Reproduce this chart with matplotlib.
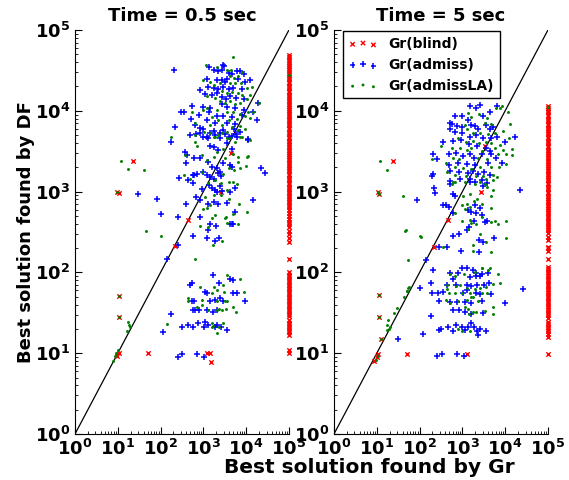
import numpy as np
import matplotlib
matplotlib.use('Agg')
import matplotlib.pyplot as plt
import matplotlib.ticker as ticker

plt.rcParams['font.family'] = 'DejaVu Sans'
plt.rcParams['font.weight'] = 'bold'
plt.rcParams['axes.titleweight'] = 'bold'
plt.rcParams['axes.labelweight'] = 'bold'

# all values are log10 of the solution cost
TIMEOUT = 5.0  # column at 1e5 = Gr found nothing

# ---------------- Time = 0.5 sec ----------------
left_blind = [(1.36, 3.38), (0.98, 3.00), (1.03, 2.98), (2.65, 2.65), (3.41, 3.00), (3.64, 3.48),
              (2.34, 2.33), (1.03, 1.71), (1.03, 1.45), (0.98, 0.97), (1.03, 1.00), (1.71, 1.00),
              (3.08, 1.00), (3.15, 1.00), (3.18, 0.89)]
left_blind_col = [4.69, 4.66, 4.63, 4.61, 4.58, 4.55, 4.53, 4.50, 4.47, 4.44, 4.42, 4.39, 4.36, 4.34,
                  4.31, 4.28, 4.25, 4.23, 4.20, 4.17, 4.15, 4.12, 4.09, 4.06, 4.04, 4.01, 3.98, 3.96,
                  3.93, 3.90, 3.87, 3.85, 3.82, 3.79, 3.77, 3.74, 3.71, 3.68, 3.66, 3.63, 3.60, 3.58,
                  3.55, 3.52, 3.49, 3.47, 3.44, 3.41, 3.39, 3.36, 3.33, 3.30, 3.28, 3.25, 3.22, 3.20,
                  3.17, 3.14, 3.11, 3.09, 3.06, 3.03, 3.01, 2.98, 2.95, 2.92, 2.90, 2.87, 2.84, 2.81,
                  2.77, 2.74, 2.70, 2.66, 2.63, 2.60, 2.56, 2.51, 2.47, 2.43, 2.38, 2.17, 2.00, 1.97,
                  1.94, 1.91, 1.88, 1.85, 1.82, 1.79, 1.76, 1.73, 1.70, 1.67, 1.64, 1.61, 1.58, 1.55,
                  1.52, 1.49, 1.46, 1.41, 1.38, 1.35, 1.32, 1.29, 1.26, 1.23, 1.04, 1.00]

left_admiss = [
    (2.31, 4.50), (2.48, 3.99), (2.55, 3.99), (2.34, 3.80), (2.24, 3.61), (2.57, 3.49), (2.59, 3.35),
    (2.76, 3.21), (2.43, 3.17), (2.76, 3.11), (2.83, 2.93), (2.59, 2.85), (2.41, 2.69), (2.01, 2.72),
    (1.92, 2.91), (1.47, 2.97), (2.76, 2.45), (4.35, 3.29), (4.44, 3.23), (4.28, 4.10), (4.25, 3.89),
    (4.04, 3.64), (3.67, 2.60), (3.36, 2.43), (3.08, 2.43), (3.10, 2.52), (3.27, 2.39), (2.41, 2.34),
    (2.15, 2.17),
    (3.14, 4.54), (3.47, 4.57), (3.49, 4.55), (3.43, 4.51), (3.26, 4.50), (3.35, 4.49), (3.59, 4.47),
    (3.66, 4.45), (3.78, 4.49), (3.86, 4.49), (3.94, 4.45), (3.08, 4.39), (3.31, 4.38), (3.43, 4.38),
    (3.51, 4.36), (3.55, 4.39), (3.80, 4.39), (3.98, 4.36), (4.09, 4.38), (3.12, 4.30), (3.25, 4.28),
    (3.35, 4.27), (3.47, 4.30), (3.59, 4.27), (3.70, 4.28), (3.90, 4.27), (2.92, 4.26), (3.03, 4.21),
    (3.20, 4.19), (3.31, 4.22), (3.43, 4.17), (3.53, 4.15), (3.63, 4.18), (3.77, 4.16), (3.94, 4.15),
    (2.73, 4.06), (3.00, 4.05), (3.16, 4.03), (3.43, 4.08), (3.55, 4.05), (3.74, 4.03), (3.94, 4.01),
    (2.89, 3.95), (3.14, 3.98), (3.31, 3.94), (3.47, 3.93), (3.66, 3.92), (3.90, 3.95), (4.17, 3.99),
    (2.71, 3.90), (3.08, 3.89), (3.27, 3.85), (3.55, 3.85), (3.74, 3.84), (2.81, 3.82), (2.92, 3.79),
    (3.00, 3.77), (3.24, 3.75), (3.47, 3.76), (3.72, 3.77), (2.69, 3.70), (3.00, 3.67), (3.12, 3.66),
    (3.39, 3.66), (3.59, 3.68), (3.78, 3.68), (4.05, 3.65),
    (2.83, 3.71), (2.92, 3.73), (3.08, 3.68), (3.16, 3.72), (3.28, 3.70), (3.39, 3.73), (3.51, 3.71),
    (3.66, 3.69), (3.77, 3.71), (3.86, 3.74), (2.61, 3.45), (2.77, 3.41), (3.16, 3.57), (3.24, 3.55),
    (3.35, 3.51), (3.55, 3.60), (3.66, 3.53), (2.92, 3.41), (3.12, 3.37), (3.20, 3.31), (3.31, 3.29),
    (3.47, 3.35), (3.63, 3.33), (3.66, 3.31), (2.86, 3.22), (3.00, 3.24), (2.65, 3.14), (2.77, 3.20),
    (3.08, 3.20), (3.16, 3.18), (3.24, 3.16), (3.35, 3.23), (3.39, 3.24), (3.41, 3.19), (2.96, 3.03),
    (3.14, 3.08), (3.20, 3.04), (3.28, 3.02), (3.33, 3.00), (3.38, 3.07), (3.43, 3.01), (3.63, 3.00),
    (3.74, 3.04), (2.92, 2.89), (3.12, 2.85), (3.24, 2.87), (3.35, 2.85), (3.55, 2.86), (3.74, 2.75),
    (4.17, 2.89), (2.92, 2.68), (3.16, 2.60), (3.30, 2.58), (3.63, 2.60), (3.70, 2.60),
    (2.69, 1.84), (2.73, 1.87), (3.22, 1.97), (3.36, 1.87), (3.62, 1.92), (3.69, 1.90), (3.79, 1.75),
    (3.69, 1.75), (3.04, 1.76), (3.08, 1.74), (3.97, 1.65), (3.15, 1.65), (3.27, 1.66), (3.39, 1.68),
    (3.46, 1.65), (2.73, 1.65), (2.78, 1.64), (2.76, 1.54), (2.80, 1.54), (2.90, 1.53), (3.08, 1.54),
    (3.22, 1.51), (3.32, 1.53), (2.24, 1.49), (2.64, 1.35), (2.76, 1.33), (2.50, 1.33), (2.06, 1.26),
    (2.87, 1.37), (3.01, 1.33), (3.11, 1.35), (3.27, 1.33), (3.32, 1.35), (3.55, 1.29), (3.41, 1.33),
    (3.04, 1.39), (2.41, 0.95), (2.50, 0.99), (2.85, 0.99), (3.01, 0.95)]

left_admissLA = [
    (3.69, 4.67), (3.06, 4.57), (3.32, 4.54), (2.24, 3.68), (1.07, 3.38), (1.24, 3.28), (1.61, 3.27),
    (1.66, 2.51), (2.01, 2.45), (4.16, 3.99), (4.02, 3.43), (4.00, 3.32), (4.02, 2.75), (3.83, 2.85),
    (3.69, 2.72), (3.81, 2.60), (3.53, 2.69), (3.22, 2.34), (3.43, 2.39), (2.80, 2.17), (5.00, 4.44),
    (3.55, 4.50), (3.64, 4.51), (3.82, 4.43), (3.90, 4.48), (3.72, 4.41), (3.63, 4.43), (3.00, 4.38),
    (3.16, 4.36), (3.24, 4.32), (3.38, 4.34), (3.63, 4.34), (3.74, 4.35), (3.88, 4.34), (4.01, 4.28),
    (4.13, 4.30), (3.43, 4.24), (3.55, 4.22), (3.66, 4.23), (3.80, 4.22), (3.90, 4.20), (4.08, 4.20),
    (3.08, 4.18), (3.28, 4.16), (3.39, 4.12), (3.51, 4.10), (3.63, 4.12), (3.74, 4.09), (3.86, 4.10),
    (4.01, 4.14), (4.29, 4.10), (2.99, 4.01), (3.08, 4.03), (3.31, 4.01), (3.55, 3.99), (3.70, 3.99),
    (3.86, 3.96), (4.05, 3.99), (2.73, 3.99), (3.20, 3.92), (3.35, 3.89), (3.59, 3.89), (3.78, 3.90),
    (3.98, 3.93), (4.09, 3.91), (2.81, 3.85), (3.16, 3.83), (3.43, 3.82), (3.66, 3.80), (3.86, 3.81),
    (3.16, 3.73), (3.43, 3.73), (3.82, 3.76), (3.98, 3.77), (2.81, 3.70), (3.28, 3.68), (3.55, 3.66),
    (3.86, 3.68),
    (2.81, 3.62), (2.85, 3.56), (3.02, 3.74), (3.24, 3.67), (3.35, 3.70), (3.55, 3.74), (3.63, 3.66),
    (3.74, 3.62), (3.90, 3.68), (4.09, 3.64), (2.57, 3.45), (2.96, 3.45), (3.08, 3.39), (3.24, 3.43),
    (3.31, 3.49), (3.47, 3.53), (3.51, 3.41), (3.70, 3.47), (3.82, 3.43), (3.80, 3.37), (4.05, 3.44),
    (2.96, 3.24), (3.59, 3.29), (3.72, 3.27), (3.86, 3.29), (3.47, 3.22), (2.54, 3.20), (2.68, 3.15),
    (3.12, 3.11), (3.28, 3.14), (3.41, 3.11), (3.59, 3.12), (3.69, 3.12), (3.78, 3.10), (3.55, 3.02),
    (3.04, 2.93), (3.24, 2.96), (3.41, 2.96), (3.59, 2.91), (3.00, 2.78), (3.08, 2.80), (3.16, 2.83),
    (3.20, 2.67), (3.28, 2.71), (3.51, 2.67), (3.55, 2.61), (2.91, 2.58), (3.12, 2.56),
    (3.55, 1.97), (3.86, 1.92), (2.92, 1.82), (3.25, 1.82), (3.46, 1.84), (3.32, 1.78), (3.48, 1.76),
    (3.20, 1.74), (3.95, 1.76), (2.64, 1.68), (2.64, 1.64), (2.97, 1.66), (3.32, 1.64), (3.50, 1.65),
    (3.55, 1.64), (3.69, 1.57), (2.97, 1.60), (3.11, 1.54), (3.32, 1.53), (3.36, 1.55), (3.43, 1.54),
    (3.53, 1.55), (3.76, 1.51), (2.85, 1.57), (3.20, 1.37), (3.20, 1.33), (3.22, 1.34), (3.32, 1.25),
    (3.46, 1.37), (2.15, 1.36), (3.36, 1.33),
    (1.24, 1.39), (1.26, 1.35), (1.29, 1.33), (1.21, 1.28), (1.00, 1.04), (0.96, 1.00), (0.93, 0.97),
    (0.89, 0.90), (1.03, 1.71), (1.03, 1.45), (0.98, 3.00)]

# ---------------- Time = 5 sec ----------------
right_blind = [(1.39, 3.38), (1.02, 2.99), (1.05, 2.97), (2.67, 2.65), (3.43, 3.00), (3.53, 3.56),
               (2.33, 2.32), (1.05, 1.72), (1.05, 1.45), (1.11, 1.17), (1.00, 0.95), (0.94, 0.90),
               (1.02, 0.99), (1.71, 0.99), (3.10, 0.99)]
right_blind_col = [4.06, 4.03, 4.01, 3.98, 3.95, 3.93, 3.90, 3.87, 3.84, 3.82, 3.79, 3.76, 3.74, 3.71,
                   3.68, 3.66, 3.63, 3.60, 3.57, 3.55, 3.52, 3.49, 3.47, 3.44, 3.41, 3.38, 3.36, 3.33,
                   3.30, 3.28, 3.25, 3.22, 3.19, 3.17, 3.14, 3.11, 3.09, 3.06, 3.03, 3.00, 2.98, 2.95,
                   2.92, 2.90, 2.87, 2.84, 2.81, 2.79, 2.76, 2.73, 2.70, 2.67, 2.64, 2.61, 2.58, 2.55,
                   2.52, 2.49, 2.44, 2.40, 2.32, 2.30, 2.27, 2.16, 2.07, 2.04, 2.01, 1.98, 1.95, 1.92,
                   1.89, 1.86, 1.83, 1.80, 1.77, 1.74, 1.71, 1.68, 1.65, 1.62, 1.59, 1.56, 1.53, 1.50,
                   1.47, 1.44, 1.39, 1.36, 1.33, 1.30, 1.27, 1.24, 1.20, 0.99]

right_admiss = [
    (3.19, 4.06), (3.32, 4.04), (3.42, 4.07), (3.64, 3.99), (2.98, 3.93), (2.83, 3.94), (3.14, 3.89),
    (3.29, 3.81), (3.49, 3.93), (3.55, 3.83), (3.80, 4.06), (2.71, 3.85), (2.88, 3.81), (2.98, 3.80),
    (3.21, 3.83), (3.37, 3.78), (3.64, 3.77), (3.72, 3.80), (2.83, 3.74), (2.98, 3.73), (3.18, 3.67),
    (3.32, 3.70), (3.49, 3.66), (3.68, 3.66), (3.81, 3.67), (4.23, 3.68), (2.54, 3.62), (2.79, 3.63),
    (2.96, 3.64), (3.16, 3.59), (3.35, 3.56), (3.55, 3.54), (3.64, 3.50), (3.99, 3.61), (2.32, 3.47),
    (2.69, 3.47), (2.85, 3.48), (3.02, 3.44), (3.18, 3.46), (3.27, 3.42), (3.45, 3.46), (3.68, 3.47),
    (3.78, 3.42), (2.40, 3.40), (2.69, 3.33), (2.90, 3.35), (3.10, 3.34), (3.29, 3.33), (3.60, 3.35),
    (3.92, 3.35), (2.71, 3.26), (2.93, 3.24), (3.14, 3.23), (3.25, 3.25), (3.37, 3.22), (3.50, 3.24),
    (3.64, 3.21), (2.28, 3.19), (2.32, 3.22), (2.71, 3.13), (2.94, 3.15), (3.18, 3.15), (3.29, 3.12),
    (3.45, 3.14), (3.58, 3.11), (2.75, 3.84), (2.70, 3.78), (2.36, 2.98),
    (2.33, 3.05), (2.72, 3.10), (3.18, 3.12), (3.49, 3.07), (4.34, 3.02), (1.94, 2.90), (2.79, 2.97),
    (2.83, 2.95), (2.55, 2.84), (2.61, 2.83), (2.69, 2.81), (3.29, 2.83), (3.41, 2.80), (3.14, 2.77),
    (3.21, 2.75), (3.32, 2.73), (2.79, 2.73), (3.45, 2.71), (3.27, 2.64), (3.53, 2.62), (3.58, 2.64),
    (3.16, 2.56), (3.10, 2.52), (2.93, 2.48), (2.77, 2.45), (3.39, 2.40), (3.49, 2.38), (3.74, 2.42),
    (2.96, 2.27), (3.39, 2.25), (2.63, 2.31), (2.46, 2.32), (2.16, 2.15), (2.32, 2.03), (3.00, 2.05),
    (3.10, 2.05), (3.24, 2.03),
    (2.71, 1.99), (2.90, 1.99), (3.33, 1.99), (3.45, 1.98), (3.60, 1.99), (2.79, 1.92), (3.18, 1.94),
    (3.32, 1.95), (3.41, 1.95), (2.26, 1.87), (2.02, 1.81), (2.63, 1.85), (2.86, 1.85), (3.10, 1.85),
    (3.21, 1.83), (3.35, 1.85), (3.50, 1.85), (3.63, 1.87), (2.30, 1.74), (2.44, 1.74), (2.55, 1.76),
    (3.02, 1.75), (3.10, 1.78), (3.33, 1.75), (3.41, 1.73), (3.68, 1.73), (4.42, 1.80), (2.46, 1.65),
    (2.71, 1.63), (2.88, 1.63), (3.06, 1.63), (3.21, 1.62), (3.45, 1.65), (3.99, 1.62), (2.79, 1.54),
    (2.93, 1.53), (3.06, 1.51), (3.21, 1.49), (3.49, 1.50), (2.26, 1.46), (2.07, 1.24), (2.46, 1.29),
    (2.51, 1.30), (2.67, 1.32), (2.79, 1.28), (2.86, 1.35), (2.98, 1.32), (3.06, 1.29), (3.14, 1.32),
    (3.21, 1.37), (3.27, 1.32), (3.35, 1.28), (3.41, 1.30), (3.56, 1.28), (3.37, 1.22),
    (1.49, 1.17), (2.40, 0.96), (2.52, 0.99), (2.87, 0.99), (3.04, 0.96)]

right_admissLA = [
    (3.14, 3.97), (3.21, 3.92), (3.39, 3.96), (3.58, 3.91), (3.78, 4.03), (3.88, 4.04), (3.53, 3.85),
    (3.68, 3.84), (3.06, 3.82), (3.10, 3.77), (3.24, 3.73), (3.41, 3.73), (3.60, 3.71), (3.76, 3.73),
    (3.94, 3.75), (4.11, 3.84), (2.90, 3.66), (3.08, 3.62), (3.25, 3.63), (3.39, 3.60), (3.56, 3.62),
    (3.68, 3.60), (3.88, 3.58), (4.09, 3.66), (2.51, 3.56), (2.75, 3.54), (2.94, 3.54), (3.10, 3.52),
    (3.21, 3.54), (3.45, 3.50), (3.76, 3.54), (3.95, 3.52), (4.17, 3.53), (2.28, 3.40), (2.79, 3.42),
    (2.93, 3.40), (3.37, 3.42), (3.58, 3.40), (3.84, 3.46), (4.03, 3.46), (4.15, 3.45), (2.61, 3.35),
    (2.83, 3.30), (3.02, 3.29), (3.21, 3.28), (3.41, 3.31), (3.66, 3.30), (3.86, 3.31), (4.02, 3.34),
    (2.63, 3.24), (2.83, 3.21), (3.08, 3.19), (3.33, 3.19), (3.49, 3.19), (3.72, 3.20), (3.81, 3.18),
    (2.79, 3.12), (3.06, 3.12), (3.56, 3.15), (3.72, 3.14), (3.93, 4.06), (4.07, 3.99),
    (1.62, 2.95), (2.75, 3.10), (2.83, 3.12), (3.29, 3.10), (3.41, 3.12), (3.53, 3.10), (3.58, 3.06),
    (3.72, 3.02), (3.68, 2.95), (3.02, 2.95), (3.18, 2.97), (3.35, 2.91), (3.27, 2.88), (3.10, 2.85),
    (2.98, 2.83), (3.18, 2.81), (3.45, 2.85), (3.68, 2.80), (3.06, 2.79), (2.83, 2.74), (3.00, 2.64),
    (3.19, 2.65), (3.21, 2.61), (3.47, 2.69), (3.66, 2.62), (3.76, 2.64), (3.84, 2.60), (4.02, 2.64),
    (3.33, 2.60), (3.14, 2.54), (3.41, 2.48), (3.56, 2.38), (4.02, 2.42), (1.66, 2.51), (2.02, 2.45),
    (3.24, 2.34), (2.55, 2.31), (3.24, 2.27), (3.66, 2.25), (1.73, 2.15), (3.45, 2.05), (3.64, 2.05),
    (1.73, 1.81), (1.71, 1.77), (1.63, 1.70), (2.71, 1.98), (2.83, 1.95), (3.04, 1.98), (3.29, 2.01),
    (3.45, 2.05), (3.60, 2.03), (3.84, 1.98), (3.72, 1.86), (3.89, 1.87), (2.63, 1.85), (2.86, 1.83),
    (2.94, 1.84), (3.10, 1.81), (3.29, 1.80), (3.41, 1.81), (3.56, 1.82), (2.63, 1.79), (2.69, 1.74),
    (2.83, 1.75), (2.98, 1.74), (3.19, 1.74), (3.25, 1.70), (3.45, 1.75), (3.58, 1.74), (2.61, 1.66),
    (2.71, 1.62), (2.90, 1.65), (3.10, 1.66), (3.21, 1.69), (3.37, 1.65), (3.06, 1.57), (3.14, 1.55),
    (3.24, 1.51), (3.33, 1.51), (3.16, 1.49), (3.53, 1.52), (3.71, 1.57), (3.72, 1.48), (2.90, 1.30),
    (2.98, 1.28), (3.18, 1.28),
    (1.07, 3.38), (1.25, 3.27), (1.02, 2.99), (1.05, 2.97), (1.68, 2.52), (2.03, 2.44), (1.25, 1.35),
    (1.27, 1.41), (1.29, 1.30), (1.23, 1.29), (1.31, 1.33), (1.40, 1.50), (1.48, 1.56), (1.70, 1.77),
    (1.76, 1.82), (1.02, 0.96), (0.97, 0.92), (1.05, 1.72), (1.05, 1.45), (1.11, 1.17), (5.00, 4.05)]

panels = [
    ('Time = 0.5 sec', left_blind, left_blind_col, left_admiss, left_admissLA),
    ('Time = 5 sec', right_blind, right_blind_col, right_admiss, right_admissLA),
]

fig = plt.figure(figsize=(5.69, 4.80), dpi=100)
ax_pos = [[0.1318, 0.0958, 0.376, 0.8417], [0.587, 0.0958, 0.376, 0.8417]]


def fmt(v, pos):
    return r'$\mathbf{10^{%d}}$' % int(round(np.log10(v)))


axes = []
for pos, (title, blind, blind_col, admiss, admissLA) in zip(ax_pos, panels):
    ax = fig.add_axes(pos)
    axes.append(ax)
    b = np.array(blind)
    bx = np.concatenate([b[:, 0], np.full(len(blind_col), TIMEOUT)])
    by = np.concatenate([b[:, 1], np.array(blind_col)])
    a = np.array(admiss)
    g = np.array(admissLA)

    ax.plot([1, 1e5], [1, 1e5], color='black', linewidth=0.9, zorder=1)
    ax.scatter(10 ** bx, 10 ** by, marker='x', s=10, linewidths=1.0, color='red',
               label='Gr(blind)', clip_on=False, zorder=2)
    ax.scatter(10 ** a[:, 0], 10 ** a[:, 1], marker='+', s=16, linewidths=1.1, color='blue',
               label='Gr(admiss)', clip_on=False, zorder=3)
    ax.scatter(10 ** g[:, 0], 10 ** g[:, 1], marker='.', s=18, linewidths=0, color='green',
               label='Gr(admissLA)', clip_on=False, zorder=4)

    ax.set_xscale('log')
    ax.set_yscale('log')
    ax.set_xlim(1, 1e5)
    ax.set_ylim(1, 1e5)
    ax.set_title(title, fontsize=13, fontweight='bold', pad=6.5)
    for s in ['top', 'right']:
        ax.spines[s].set_visible(False)
    for axis in (ax.xaxis, ax.yaxis):
        axis.set_major_locator(ticker.LogLocator(base=10, numticks=10))
        axis.set_minor_locator(ticker.LogLocator(base=10, subs=np.arange(2, 10), numticks=10))
        axis.set_major_formatter(ticker.FuncFormatter(fmt))
        axis.set_minor_formatter(ticker.NullFormatter())
    ax.tick_params(which='both', direction='in', top=False, right=False, labelsize=13)
    ax.tick_params(which='major', length=5)
    ax.tick_params(which='minor', length=2.5)

axes[0].set_ylabel('Best solution found by DF', fontsize=13, fontweight='bold')
axes[0].yaxis.set_label_coords(-0.185, 0.5)
fig.text(0.6485, 0.027, 'Best solution found by Gr', fontsize=14.5, fontweight='bold',
         ha='center', va='center')

axes[1].legend(loc='upper left', bbox_to_anchor=(0.035, 1.0), borderaxespad=0.1,
               scatterpoints=3, fontsize=10, frameon=True, fancybox=False,
               edgecolor='black', framealpha=1, borderpad=0.4, handletextpad=0.8,
               handlelength=2.1, labelspacing=0.5)

plt.savefig('out.png', dpi=100)
